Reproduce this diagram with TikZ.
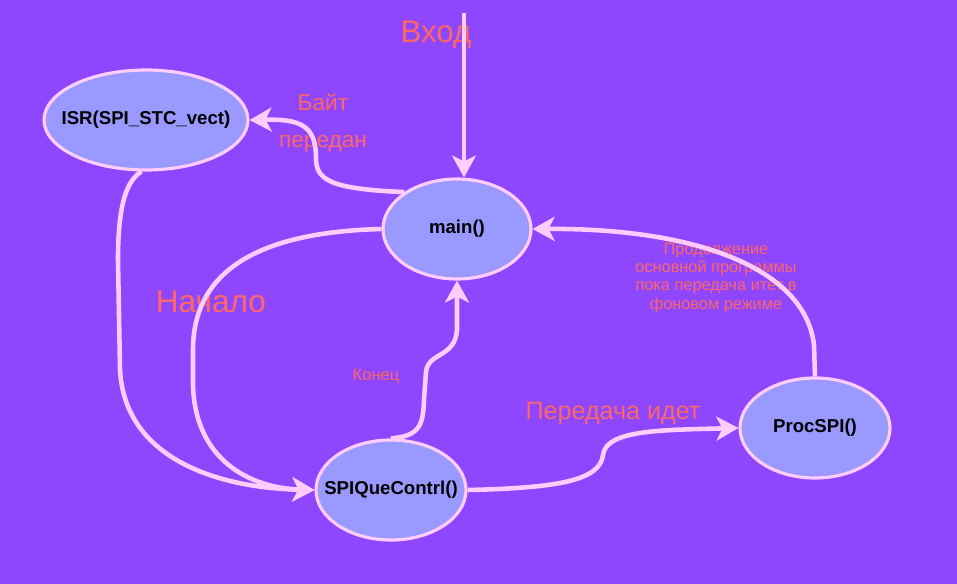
\documentclass[tikz,border=0pt]{standalone}
\usepackage{fontspec}
\setmainfont{Liberation Sans}
\usetikzlibrary{shapes.geometric, arrows.meta}

\definecolor{bgpurple}{HTML}{8E47FF}
\definecolor{statefill}{HTML}{9999FF}
\definecolor{edgepink}{HTML}{FFCCFF}
\definecolor{labelred}{HTML}{FF6666}

\begin{document}
\begin{tikzpicture}[x=0.02cm, y=-0.02cm,
    state/.style={ellipse, draw=edgepink, fill=statefill, line width=1.8pt, inner xsep=-9pt, inner ysep=0pt, minimum width=3cm, minimum height=2cm, font=\fontsize{10.6}{12}\selectfont\bfseries},
    line/.style={draw=edgepink, line width=2.6pt, line join=round, -{Stealth[length=0.44cm, width=0.48cm, inset=0.12cm]}},
    tag/.style={text=labelred, inner sep=0pt, align=center}]

    \fill [bgpurple] (0,0) rectangle (957,584);

    \node [state, minimum width=4.08cm] (isr) at (146,120) {ISR(SPI\_STC\_vect)};
    \node [state, minimum width=2.96cm] (main) at (457,229) {main()};
    \node [state] (spi) at (391,490) {SPIQueContrl()};
    \node [state] (proc) at (815,428) {ProcSPI()};

    % labels
    \node [tag, font=\fontsize{17.8}{20}\selectfont] (entrytag) at (436,35) {Вход};
    \node [tag, font=\fontsize{12.9}{21}\selectfont] (bytetag) at (323,123) {Байт\\передан};
    \node [tag, font=\fontsize{18}{20}\selectfont] (starttag) at (211,302) {Начало};
    \node [tag, font=\fontsize{9.4}{11}\selectfont] (endtag) at (376,376) {Конец};
    \node [tag, font=\fontsize{14.3}{16}\selectfont] (sendtag) at (613,413) {Передача идет};
    \node [tag, font=\fontsize{9.3}{10.3}\selectfont] (backtag) at (716,278) {Продолжение\\основной программы\\пока передача итет в\\фоновом режиме};

    \coordinate (in) at (464,13);

    \path [line] (in) -- (in |- main.north);
    \path [line] (main.145) .. controls (330,189) and (316,180) .. (316,158) .. controls (316,125) and (300,119) .. (isr.east);
    \path [line] (isr.265) .. controls (128,180) and (118,200) .. (118,260) -- (120,370) .. controls (125,460) and (220,488) .. (spi.west);
    \path [line] (main.west) .. controls (260,232) and (193,270) .. (193,350) -- (193,385) .. controls (195,460) and (250,488) .. (spi.west);
    \path [line] (spi.north) .. controls (420,436) and (423,425) .. (424,400) -- (426,372) .. controls (428,352) and (455,358) .. (457,330) -- (main.south);
    \path [line] (spi.east) .. controls (560,488) and (600,480) .. (603,455) .. controls (606,430) and (660,430) .. (proc.west);
    \path [line] (proc.north) -- (814,345) .. controls (805,268) and (695,228) .. (main.east);
\end{tikzpicture}
\end{document}
